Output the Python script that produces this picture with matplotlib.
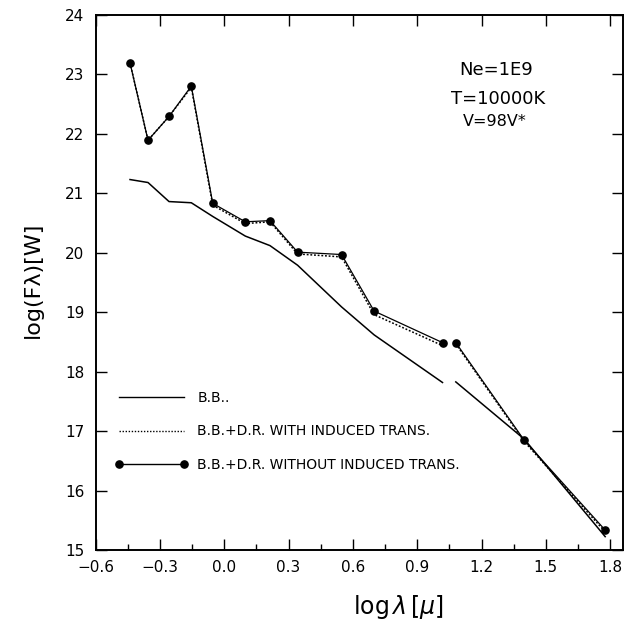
import matplotlib
matplotlib.use("Agg")
import matplotlib.pyplot as plt
from matplotlib.lines import Line2D
import numpy as np

# log(lambda) positions [micron]
log_lam = [-0.44, -0.356, -0.258, -0.154, -0.054, 0.098, 0.213, 0.342,
           0.547, 0.699, 1.018, 1.080, 1.399, 1.777]

# B.B. only
bb = [21.23, 21.18, 20.86, 20.84, 20.61, 20.28, 20.12, 19.79,
      19.09, 18.62, 17.82, 17.83, 16.87, 15.23]

# B.B.+D.R. with induced transitions (dotted)
bbdr_ind = [23.19, 21.89, 22.29, 22.78, 20.80, 20.49, 20.52, 19.98,
            19.93, 18.96, 18.44, 18.47, 16.83, 15.31]

# B.B.+D.R. without induced transitions (dots)
bbdr_noind = [23.19, 21.89, 22.29, 22.80, 20.83, 20.52, 20.54, 20.01,
              19.97, 19.02, 18.49, 18.49, 16.85, 15.34]

# the curves are split in two pieces
split = 11

x_ticks = [-0.6, -0.3, 0.0, 0.3, 0.6, 0.9, 1.2, 1.5, 1.8]
y_ticks = [15, 16, 17, 18, 19, 20, 21, 22, 23, 24]

labels = ["B.B..", "B.B.+D.R. WITH INDUCED TRANS.",
          "B.B.+D.R. WITHOUT INDUCED TRANS."]

fig = plt.figure(figsize=(6.24, 6.33), dpi=100)
ax = fig.add_axes([0.1534, 0.1306, 0.8446, 0.8462])

x = np.array(log_lam)
for sl in (slice(0, split), slice(split, None)):
    ax.plot(x[sl], np.array(bb)[sl], color="black", lw=1.1)
    ax.plot(x[sl], np.array(bbdr_ind)[sl], color="black", lw=1.1, ls=(0, (1.2, 1.2)))
    ax.plot(x[sl], np.array(bbdr_noind)[sl], color="black", lw=0.9,
            marker="o", ms=5.2)

ax.set_xlim(-0.6, 1.859)
ax.set_ylim(15, 24)
ax.set_xticks(x_ticks)
ax.set_xticklabels(["{:.1f}".format(v).replace("-", "\u2212") for v in x_ticks])
ax.set_xticks(np.arange(-0.45, 1.86, 0.3), minor=True)
ax.set_yticks(y_ticks)
ax.tick_params(which="major", direction="in", top=True, right=True,
               labelsize=11, width=1.0)
ax.tick_params(axis="x", which="minor", direction="in", top=False,
               bottom=True, length=4, width=1.0)
ax.tick_params(axis="x", which="major", length=8, pad=7)
ax.tick_params(axis="y", which="major", length=8, pad=8)
for s in ax.spines.values():
    s.set_linewidth(1.4)

ax.text(0.759, 0.897, "Ne=1E9", transform=ax.transAxes, ha="center",
        va="center", fontsize=13)
ax.text(0.763, 0.843, "T=10000K", transform=ax.transAxes, ha="center",
        va="center", fontsize=13)
ax.text(0.757, 0.800, "V=98V*", transform=ax.transAxes, ha="center",
        va="center", fontsize=11.5)

handles = [Line2D([], [], color="black", lw=1.0),
           Line2D([], [], color="black", lw=1.0, ls=(0, (1, 1.2))),
           Line2D([], [], color="black", lw=1.0, marker="o", ms=5.2)]
ax.legend(handles, labels, loc="upper left", bbox_to_anchor=(0.036, 0.297),
          frameon=False, fontsize=10, handlelength=5.3, handletextpad=0.65,
          labelspacing=1.38, numpoints=2, borderpad=0, borderaxespad=0)

fig.text(0.638, 0.041, r"log$\,\lambda\,$[$\mu$]", ha="center", va="center",
         fontsize=17)
fig.text(0.052, 0.558, "log(F\u03bb)[W]", rotation=90, ha="center",
         va="center", fontsize=16)

fig.savefig("out.png", dpi=100)
